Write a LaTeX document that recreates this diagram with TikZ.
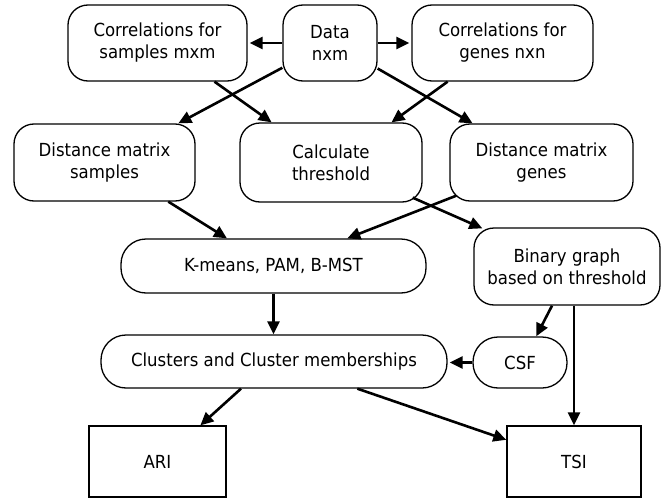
\documentclass[tikz,border=0pt]{standalone}
\usepackage{fontspec}
\setmainfont{DejaVu Sans}[FakeStretch=0.92]
\usetikzlibrary{arrows.meta,calc}
\begin{document}
\begin{tikzpicture}[x=1pt,y=-1pt,
  label text/.style={align=center,inner sep=0pt,font=\fontsize{18}{22}\selectfont},
  box/.style={label text,draw,line width=1.3pt,rounded corners=20pt},
  pill/.style={box,rounded corners=25pt},
  plain/.style={label text,draw,line width=1.3pt},
  flow/.style={line width=2.6pt,-{Triangle[length=13pt,width=12pt]}}]

\useasboundingbox[fill=white] (0,0) rectangle (662,498);

% first row: input data and the two correlation matrices
\node[box,minimum width=179pt,minimum height=76pt] (cs) at (157.5,43) {Correlations for\\samples mxm};
\node[box,minimum width=94pt,minimum height=76pt] (data) at (330,43) {Data\\nxm};
\node[box,minimum width=181pt,minimum height=76pt] (cg) at (502.5,43) {Correlations for\\genes nxn};

% second row
\node[box,minimum width=181pt,minimum height=77pt] (ds) at (104.5,162.5) {Distance matrix\\samples};
\node[box,minimum width=182pt,minimum height=79pt] (ct) at (331,162.5) {Calculate\\threshold};
\node[box,minimum width=183pt,minimum height=77pt] (dg) at (541.5,162.5) {Distance matrix\\genes};

% clustering
\node[pill,minimum width=305pt,minimum height=54pt] (km) at (273.5,266) {K-means, PAM, B-MST};
\node[box,minimum width=186pt,minimum height=77pt] (bg) at (567,266.5) {Binary graph\\based on threshold};
\node[pill,minimum width=346pt,minimum height=53pt] (cl) at (274,361.5) {Clusters and Cluster memberships};
\node[pill,minimum width=94pt,minimum height=51pt] (csf) at (520,362.5) {CSF};

% evaluation
\node[plain,minimum width=137pt,minimum height=71pt] (ari) at (157.5,461.5) {ARI};
\node[plain,minimum width=134pt,minimum height=71pt] (tsi) at (574,461.5) {TSI};

% connectors
\draw[flow,shorten >=2pt] (data.west) -- (cs.east);
\draw[flow,shorten >=2pt] (data.east) -- (cg.west);
\draw[flow] ($(data.south west)!0.18!(data.north west)$) -- ($(ds.north west)!0.905!(ds.north east)$);
\draw[flow] ($(cs.south west)!0.816!(cs.south east)$) -- ($(ct.north west)!0.176!(ct.north east)$);
\draw[flow] ($(cg.south west)!0.199!(cg.south east)$) -- ($(ct.north west)!0.83!(ct.north east)$);
\draw[flow] ($(data.south east)!0.17!(data.north east)$) -- ($(dg.north west)!0.126!(dg.north east)$);
\draw[flow] ($(ds.south west)!0.85!(ds.south east)$) -- ($(km.north west)!0.348!(km.north east)$);
\draw[flow] ($(dg.south west)+(7,-6)$) -- ($(km.north west)!0.741!(km.north east)$);
\draw[flow] ($(ct.south east)+(-10,-5)$) -- ($(bg.north west)+(9,1)$);
\draw[flow] (km.south) -- (km.south |- cl.north);
\draw[flow] ($(bg.south west)!0.42!(bg.south east)$) -- ($(csf.north west)!0.67!(csf.north east)$);
\draw[flow] (tsi.north |- bg.south) -- (tsi.north);
\draw[flow,shorten >=2pt] (csf.west) -- (csf.west -| cl.east);
\draw[flow] ($(cl.south west)!0.405!(cl.south east)$) -- ($(ari.north west)!0.81!(ari.north east)$);
\draw[flow] ($(cl.south west)!0.74!(cl.south east)$) -- ($(tsi.north west)!0.2!(tsi.south west)$);
\end{tikzpicture}
\end{document}
